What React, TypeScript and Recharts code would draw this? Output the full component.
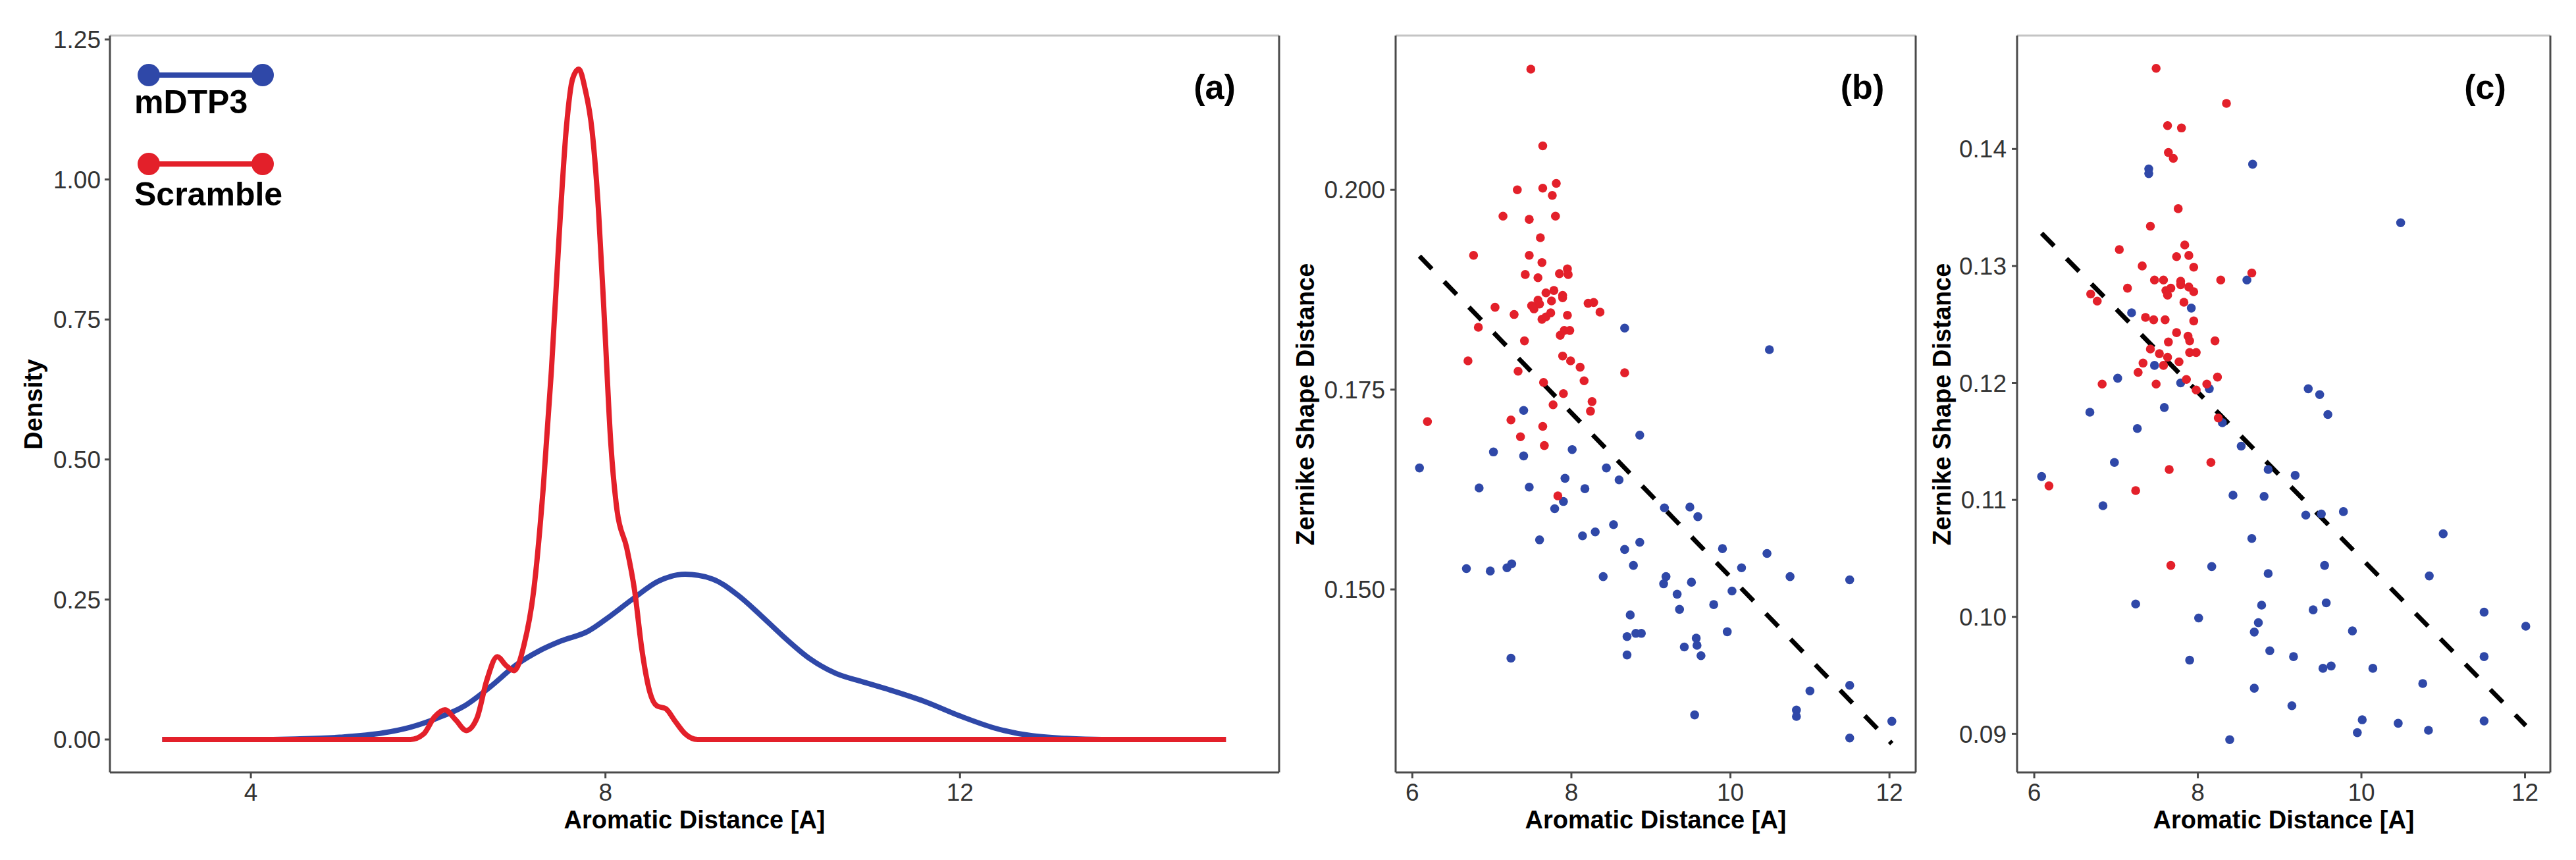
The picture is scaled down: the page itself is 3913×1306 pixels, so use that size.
import {
  LineChart,
  Line,
  ScatterChart,
  Scatter,
  XAxis,
  YAxis,
  ReferenceLine,
  Legend,
  Customized,
} from 'recharts';

const BLUE = '#2F48A8';
const RED = '#E3202A';
const AXIS = '#4a4a4a';
const TOP_BORDER = '#c4c4c4';
const FONT = '"Liberation Sans", Arial, Helvetica, sans-serif';

// (a) kernel density, [aromatic distance, density]
const mdtp3Density: [number, number][] = [
  [3.0, 0], [4.0, 0], [4.5, 0.001], [5.0, 0.004], [5.5, 0.012], [5.8, 0.022],
  [6.1, 0.038], [6.4, 0.059], [6.7, 0.094], [7.0, 0.134], [7.25, 0.158],
  [7.5, 0.176], [7.8, 0.193], [8.05, 0.22], [8.3, 0.25], [8.6, 0.283],
  [8.9, 0.295], [9.2, 0.287], [9.5, 0.257], [9.75, 0.222], [10.0, 0.185],
  [10.3, 0.145], [10.6, 0.118], [10.9, 0.103], [11.2, 0.089], [11.6, 0.068],
  [12.0, 0.042], [12.4, 0.02], [12.8, 0.007], [13.2, 0.002], [13.6, 0], [15.0, 0],
];
const scrambleDensity: [number, number][] = [
  [3.0, 0], [5.8, 0], [5.95, 0.01], [6.07, 0.04], [6.19, 0.053], [6.31, 0.035],
  [6.43, 0.016], [6.55, 0.038], [6.66, 0.105], [6.78, 0.148], [6.88, 0.132],
  [6.97, 0.123], [7.08, 0.168], [7.19, 0.265], [7.3, 0.453], [7.39, 0.658],
  [7.48, 0.906], [7.56, 1.094], [7.63, 1.18], [7.7, 1.197], [7.77, 1.162],
  [7.85, 1.086], [7.92, 0.949], [7.99, 0.744], [8.06, 0.53], [8.13, 0.41],
  [8.24, 0.342], [8.33, 0.265], [8.41, 0.162], [8.5, 0.085], [8.58, 0.06],
  [8.68, 0.055], [8.78, 0.034], [8.9, 0.01], [9.04, 0], [15.0, 0],
];
const legendOrder = ['mDTP3', 'Scramble'];

// (b) aromatic distance vs zernike shape distance
const bScramble: [number, number][] = [
  [7.49, 0.2151], [7.64, 0.2055], [7.32, 0.2], [7.64, 0.2002], [7.81, 0.2008], [7.76, 0.1993],
  [7.14, 0.1967], [7.47, 0.1963], [7.8, 0.1967], [7.61, 0.194], [6.77, 0.1918], [7.47, 0.1918],
  [7.63, 0.1909], [7.42, 0.1894], [7.58, 0.189], [7.85, 0.1895], [7.95, 0.1901], [7.96, 0.1894],
  [7.68, 0.1871], [7.78, 0.1874], [7.89, 0.1868], [7.89, 0.1865], [7.58, 0.1862], [7.6, 0.1857],
  [7.5, 0.1855], [7.53, 0.1851], [7.75, 0.1861], [7.04, 0.1853], [7.28, 0.1844], [7.63, 0.1838],
  [7.68, 0.1841], [7.74, 0.1846], [7.95, 0.1843], [8.21, 0.1858], [8.28, 0.1859], [8.36, 0.1847],
  [6.83, 0.1828], [7.41, 0.1811], [7.86, 0.1818], [7.91, 0.1824], [7.98, 0.1824], [6.7, 0.1786],
  [7.89, 0.1792], [7.99, 0.1786], [8.11, 0.1778], [7.33, 0.1773], [8.67, 0.1771], [7.65, 0.1759],
  [8.16, 0.1761], [7.9, 0.1745], [8.26, 0.1735], [7.77, 0.1731], [8.24, 0.1723], [6.19, 0.171],
  [7.24, 0.1712], [7.64, 0.1704], [7.36, 0.1691], [7.66, 0.168], [7.83, 0.1617],
];
const bMdtp3: [number, number][] = [
  [8.67, 0.1827], [10.49, 0.18], [7.4, 0.1724], [8.86, 0.1693], [7.02, 0.1672], [8.01, 0.1675],
  [7.4, 0.1667], [6.09, 0.1652], [8.44, 0.1652], [7.92, 0.1639], [8.6, 0.1637], [6.84, 0.1627],
  [7.47, 0.1628], [8.17, 0.1626], [7.9, 0.161], [7.79, 0.1601], [9.17, 0.1602], [9.49, 0.1603],
  [9.59, 0.1591], [8.53, 0.1581], [8.3, 0.1572], [8.14, 0.1567], [7.6, 0.1562], [8.86, 0.1559],
  [8.67, 0.155], [9.9, 0.1551], [10.46, 0.1545], [6.68, 0.1526], [6.98, 0.1523], [7.19, 0.1527],
  [7.25, 0.1532], [8.78, 0.153], [10.14, 0.1527], [8.4, 0.1516], [9.19, 0.1516], [9.16, 0.1507],
  [9.51, 0.1509], [10.75, 0.1516], [11.5, 0.1512], [10.02, 0.1498], [9.33, 0.1494], [9.79, 0.1481],
  [9.36, 0.1475], [8.74, 0.1468], [9.96, 0.1447], [8.7, 0.1441], [8.81, 0.1445], [8.88, 0.1445],
  [9.57, 0.1439], [9.58, 0.143], [9.42, 0.1428], [8.7, 0.1418], [9.63, 0.1417], [7.24, 0.1414],
  [11.5, 0.138], [11.0, 0.1373], [10.83, 0.1349], [10.83, 0.1341], [9.55, 0.1343], [12.03, 0.1335],
  [11.5, 0.1314],
];
const bFit: [number, number][] = [[6.09, 0.1917], [12.03, 0.1307]];

// (c) aromatic distance vs zernike shape distance
const cScramble: [number, number][] = [
  [7.49, 0.1469], [8.35, 0.1439], [7.63, 0.142], [7.8, 0.1418], [7.64, 0.1397], [7.7, 0.1392],
  [7.76, 0.1349], [7.42, 0.1334], [7.04, 0.1314], [7.84, 0.1318], [7.74, 0.1308], [7.89, 0.1309],
  [7.32, 0.13], [7.95, 0.1299], [8.66, 0.1294], [7.47, 0.1288], [7.58, 0.1288], [7.79, 0.1287],
  [7.79, 0.1284], [8.28, 0.1288], [7.14, 0.1281], [7.61, 0.1279], [7.67, 0.1281], [7.89, 0.1282],
  [7.95, 0.1278], [7.63, 0.1275], [6.69, 0.1276], [6.77, 0.127], [7.83, 0.1269], [7.36, 0.1256],
  [7.46, 0.1254], [7.6, 0.1254], [7.95, 0.1253], [7.74, 0.1243], [7.88, 0.124], [7.9, 0.1236],
  [7.64, 0.1235], [8.21, 0.1236], [7.42, 0.1229], [7.53, 0.1225], [7.9, 0.1226], [7.98, 0.1226],
  [7.63, 0.1222], [7.33, 0.1217], [7.77, 0.1218], [7.58, 0.1215], [7.27, 0.1209], [8.24, 0.1205],
  [7.86, 0.1203], [6.83, 0.1199], [7.49, 0.1199], [8.11, 0.1199], [7.98, 0.1194], [8.25, 0.117],
  [6.18, 0.1112], [7.24, 0.1108], [7.65, 0.1126], [8.16, 0.1132], [7.67, 0.1044],
];
const cMdtp3: [number, number][] = [
  [7.4, 0.1383], [7.4, 0.1379], [8.67, 0.1387], [10.48, 0.1337], [8.6, 0.1288], [7.92, 0.1264],
  [7.19, 0.126], [7.47, 0.1215], [7.02, 0.1204], [7.79, 0.12], [8.14, 0.1195], [9.35, 0.1195],
  [9.49, 0.119], [6.68, 0.1175], [7.59, 0.1179], [9.59, 0.1173], [8.3, 0.1166], [7.26, 0.1161],
  [8.53, 0.1146], [6.98, 0.1132], [8.86, 0.1126], [9.19, 0.1121], [6.09, 0.112], [8.43, 0.1104],
  [8.81, 0.1103], [6.84, 0.1095], [9.32, 0.1087], [9.51, 0.1088], [9.78, 0.109], [11.0, 0.1071],
  [8.66, 0.1067], [9.55, 0.1044], [8.17, 0.1043], [8.86, 0.1037], [10.83, 0.1035], [7.24, 0.1011],
  [9.57, 0.1012], [9.41, 0.1006], [8.78, 0.101], [11.5, 0.1004], [8.01, 0.0999], [8.74, 0.0995],
  [12.01, 0.0992], [8.69, 0.0987], [9.89, 0.0988], [8.88, 0.0971], [9.17, 0.0966], [11.5, 0.0966],
  [7.9, 0.0963], [9.53, 0.0956], [9.63, 0.0958], [10.14, 0.0956], [10.75, 0.0943], [8.69, 0.0939],
  [9.15, 0.0924], [10.01, 0.0912], [10.45, 0.0909], [11.5, 0.0911], [10.82, 0.0903], [9.95, 0.0901],
  [8.39, 0.0895],
];
const cFit: [number, number][] = [[6.09, 0.1328], [12.01, 0.0907]];

const densityTicksY = [0, 0.25, 0.5, 0.75, 1.0, 1.25];
const densityTicksX = [4, 8, 12];
const scatterTicksX = [6, 8, 10, 12];
const bTicksY = [0.15, 0.175, 0.2];
const cTicksY = [0.09, 0.1, 0.11, 0.12, 0.13, 0.14];

const X_TITLE = 'Aromatic Distance [A]';
const Y_TITLE_A = 'Density';
const Y_TITLE_BC = 'Zernike Shape Distance';

const toPts = (arr: [number, number][]) => arr.map(([x, y]) => ({ x, y }));

const tickStyle = { fontSize: 37, fill: '#333', fontFamily: FONT };
const axisLine = { stroke: AXIS, strokeWidth: 3 };

function Dot({ cx, cy, fill }: any) {
  if (cx == null || cy == null) return null;
  return <circle cx={cx} cy={cy} r={6.8} fill={fill} />;
}

function Tag({ x, text }: { x: number; text: string }) {
  return (
    <text x={x} y={150} textAnchor="middle" fontSize={52} fontWeight="bold" fill="#000">
      {text}
    </text>
  );
}

function YTitle({ x, text }: { x: number; text: string }) {
  const y = 614;
  return (
    <text x={x} y={y} transform={`rotate(-90 ${x} ${y})`} textAnchor="middle" fontSize={38} fontWeight="bold" fill="#000">
      {text}
    </text>
  );
}

function XTitle({ x }: { x: number }) {
  return (
    <text x={x} y={1258} textAnchor="middle" fontSize={38} fontWeight="bold" fill="#000">
      {X_TITLE}
    </text>
  );
}

function DensityLegend({ payload }: any) {
  const items = [...(payload || [])].sort(
    (a: any, b: any) => legendOrder.indexOf(a.value) - legendOrder.indexOf(b.value),
  );
  return (
    <svg width={520} height={340} style={{ position: 'absolute', left: 0, top: 0 }}>
      {items.map((p: any, i: number) => {
        const y0 = 114 + i * 135;
        return (
          <g key={p.value}>
            <line x1={226} x2={399} y1={y0} y2={y0} stroke={p.color} strokeWidth={8} />
            <circle cx={226} cy={y0} r={17} fill={p.color} />
            <circle cx={399} cy={y0} r={17} fill={p.color} />
            <text x={204} y={y0 + 58 + i * 5} fontSize={50} fontWeight="bold" fill="#000" fontFamily={FONT}>
              {p.value}
            </text>
          </g>
        );
      })}
    </svg>
  );
}

function PanelA() {
  const xDomain: [number, number] = [2.41, 15.6];
  const yDomain: [number, number] = [-0.0588, 1.257];
  return (
    <LineChart width={1960} height={1306} margin={{ top: 54, right: 17, bottom: 0, left: 0 }}>
      <XAxis type="number" dataKey="x" domain={xDomain} ticks={densityTicksX} allowDataOverflow height={133}
        tickSize={9} tickMargin={8} tick={tickStyle} axisLine={axisLine} tickLine={axisLine} />
      <YAxis type="number" dataKey="y" domain={yDomain} ticks={densityTicksY} allowDataOverflow width={167}
        tickSize={8} tickMargin={6} tick={tickStyle} tickFormatter={(v: number) => v.toFixed(2)}
        axisLine={axisLine} tickLine={axisLine} />
      <ReferenceLine y={yDomain[1]} stroke={TOP_BORDER} strokeWidth={3} />
      <ReferenceLine x={xDomain[1]} stroke={AXIS} strokeWidth={3} />
      <Line data={toPts(mdtp3Density)} dataKey="y" name="mDTP3" type="monotone" stroke={BLUE} strokeWidth={8}
        dot={false} isAnimationActive={false} />
      <Line data={toPts(scrambleDensity)} dataKey="y" name="Scramble" type="monotone" stroke={RED} strokeWidth={8}
        dot={false} isAnimationActive={false} />
      <Legend layout="vertical" align="center" verticalAlign="middle" content={DensityLegend}
        wrapperStyle={{ left: 0, top: 0, width: 520, height: 340 }} />
      <Customized component={() => <Tag x={1845} text="(a)" />} />
      <Customized component={() => <YTitle x={64} text={Y_TITLE_A} />} />
      <Customized component={() => <XTitle x={1055} />} />
    </LineChart>
  );
}

interface ScatterProps {
  width: number;
  yAxisWidth: number;
  right: number;
  xDomain: [number, number];
  yDomain: [number, number];
  yTicks: number[];
  digits: number;
  blue: [number, number][];
  red: [number, number][];
  fit: [number, number][];
  tag: string;
  tagX: number;
  yTitleX: number;
  xTitleX: number;
}

function ScatterPanel(p: ScatterProps) {
  return (
    <ScatterChart width={p.width} height={1306} margin={{ top: 54, right: p.right, bottom: 0, left: 0 }}>
      <XAxis type="number" dataKey="x" domain={p.xDomain} ticks={scatterTicksX} allowDataOverflow height={133}
        tickSize={9} tickMargin={8} tick={tickStyle} axisLine={axisLine} tickLine={axisLine} />
      <YAxis type="number" dataKey="y" domain={p.yDomain} ticks={p.yTicks} allowDataOverflow width={p.yAxisWidth}
        tickSize={8} tickMargin={8} tick={tickStyle} tickFormatter={(v: number) => v.toFixed(p.digits)}
        axisLine={axisLine} tickLine={axisLine} />
      <ReferenceLine y={p.yDomain[1]} stroke={TOP_BORDER} strokeWidth={3} />
      <ReferenceLine x={p.xDomain[1]} stroke={AXIS} strokeWidth={3} />
      <Scatter data={toPts(p.blue)} fill={BLUE} shape={(s: any) => <Dot {...s} fill={BLUE} />} isAnimationActive={false} />
      <Scatter data={toPts(p.red)} fill={RED} shape={(s: any) => <Dot {...s} fill={RED} />} isAnimationActive={false} />
      <ReferenceLine
        segment={toPts(p.fit)}
        stroke="#000"
        strokeWidth={7}
        strokeDasharray="27 27"
      />
      <Customized component={() => <Tag x={p.tagX} text={p.tag} />} />
      <Customized component={() => <YTitle x={p.yTitleX} text={Y_TITLE_BC} />} />
      <Customized component={() => <XTitle x={p.xTitleX} />} />
    </ScatterChart>
  );
}

export default function App() {
  return (
    <div style={{ position: 'absolute', left: 0, top: 0, width: 3913, height: 1306, background: '#fff', fontFamily: FONT }}>
      <div style={{ position: 'absolute', left: 0, top: 0 }}>
        <PanelA />
      </div>
      <div style={{ position: 'absolute', left: 1960, top: 0 }}>
        <ScatterPanel width={970} yAxisWidth={160} right={20} xDomain={[5.79, 12.33]} yDomain={[0.1271, 0.2193]}
          yTicks={bTicksY} digits={3} blue={bMdtp3} red={bScramble} fit={bFit}
          tag="(b)" tagX={869} yTitleX={36} xTitleX={555} />
      </div>
      <div style={{ position: 'absolute', left: 2930, top: 0 }}>
        <ScatterPanel width={983} yAxisWidth={134} right={39} xDomain={[5.79, 12.31]} yDomain={[0.0867, 0.1497]}
          yTicks={cTicksY} digits={2} blue={cMdtp3} red={cScramble} fit={cFit}
          tag="(c)" tagX={845} yTitleX={33} xTitleX={539} />
      </div>
    </div>
  );
}
